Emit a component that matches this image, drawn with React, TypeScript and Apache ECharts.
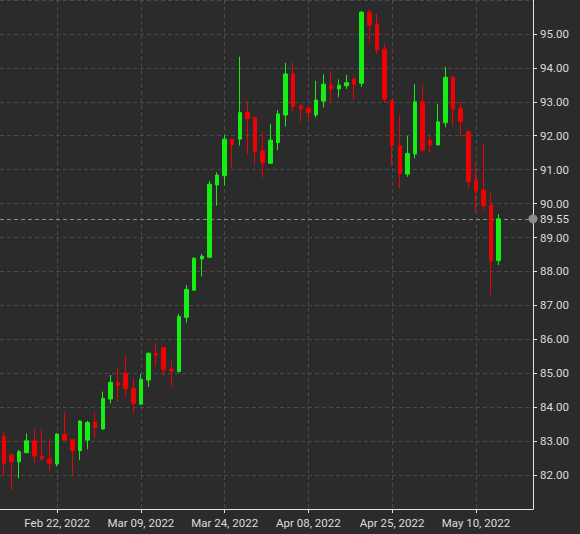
import React, { useEffect, useRef } from "react";
import * as echarts from "echarts";

// trading days, last four are empty padding on the right
const dates = [
  "2022-02-11", "2022-02-14", "2022-02-15", "2022-02-16", "2022-02-17", "2022-02-18",
  "2022-02-21", "2022-02-22", "2022-02-23", "2022-02-24", "2022-02-25", "2022-02-28",
  "2022-03-01", "2022-03-02", "2022-03-03", "2022-03-04", "2022-03-07", "2022-03-08",
  "2022-03-09", "2022-03-10", "2022-03-11", "2022-03-14", "2022-03-15", "2022-03-16",
  "2022-03-17", "2022-03-18", "2022-03-21", "2022-03-22", "2022-03-23", "2022-03-24",
  "2022-03-25", "2022-03-28", "2022-03-29", "2022-03-30", "2022-03-31", "2022-04-01",
  "2022-04-04", "2022-04-05", "2022-04-06", "2022-04-07", "2022-04-08", "2022-04-11",
  "2022-04-12", "2022-04-13", "2022-04-14", "2022-04-15", "2022-04-18", "2022-04-19",
  "2022-04-20", "2022-04-21", "2022-04-22", "2022-04-25", "2022-04-26", "2022-04-27",
  "2022-04-28", "2022-04-29", "2022-05-02", "2022-05-03", "2022-05-04", "2022-05-05",
  "2022-05-06", "2022-05-09", "2022-05-10", "2022-05-11", "2022-05-12", "2022-05-13",
  "2022-05-16", "2022-05-17", "2022-05-18", "2022-05-19",
];

const opens = [
  83.13, 82.59, 82.39, 82.66, 83.01, 82.56, 82.47, 82.33, 83.2, 83.05, 82.72, 83.03,
  83.55, 83.36, 84.24, 84.73, 85.0, 84.56, 84.09, 84.8, 85.59, 85.76, 85.12, 85.05,
  86.65, 87.45, 88.37, 88.42, 90.55, 90.82, 91.9, 91.9, 92.69, 92.53, 91.55, 91.19,
  91.8, 92.61, 93.82, 92.88, 92.81, 92.61, 93.02, 93.49, 93.38, 93.47, 93.67, 93.55,
  95.64, 95.28, 94.55, 93.03, 91.71, 90.87, 91.46, 93.0, 91.85, 91.73, 92.38, 93.72,
  92.81, 92.12, 90.7, 90.4, 89.96, 88.32,
];
const closes = [
  82.35, 82.39, 82.69, 83.01, 82.56, 82.49, 82.35, 83.21, 83.03, 82.72, 83.59, 83.55,
  83.4, 84.26, 84.73, 84.64, 84.54, 84.11, 84.82, 85.59, 85.53, 85.1, 85.07, 86.67,
  87.47, 88.39, 88.45, 90.57, 90.84, 91.9, 91.73, 92.68, 92.51, 91.53, 91.2, 91.87,
  92.64, 93.82, 92.86, 92.79, 92.68, 93.05, 93.52, 93.38, 93.49, 93.56, 93.52, 95.64,
  95.26, 94.53, 93.08, 91.71, 90.89, 91.48, 93.0, 91.58, 91.73, 92.41, 93.72, 92.78,
  92.41, 90.65, 90.38, 89.94, 88.32, 89.55,
];
const lows = [
  81.97, 81.56, 81.9, 82.64, 82.36, 82.42, 82.12, 82.25, 83.02, 82.0, 82.44, 82.76,
  83.1, 83.33, 84.11, 84.16, 84.31, 83.82, 84.06, 84.6, 85.22, 84.92, 84.6, 85.02,
  86.49, 87.43, 87.85, 88.39, 89.94, 90.53, 91.06, 91.71, 91.45, 91.14, 90.77, 91.17,
  91.58, 92.27, 92.71, 92.41, 92.46, 92.53, 92.83, 93.0, 93.13, 93.38, 93.07, 93.44,
  94.74, 94.41, 92.96, 91.12, 90.45, 90.79, 91.33, 91.55, 91.5, 91.72, 92.25, 92.29,
  91.99, 90.47, 89.76, 89.79, 87.31, 88.19,
];
const highs = [
  83.26, 82.62, 82.74, 83.23, 83.35, 83.35, 83.05, 83.23, 83.84, 83.05, 83.62, 83.6,
  83.85, 84.46, 84.95, 85.16, 85.51, 84.85, 84.97, 85.61, 85.88, 85.77, 85.37, 86.75,
  87.6, 88.42, 88.51, 90.67, 90.92, 92.02, 91.92, 94.33, 93.02, 92.53, 92.12, 92.35,
  92.76, 94.15, 94.15, 92.93, 92.91, 93.62, 93.81, 93.89, 93.66, 93.79, 93.72, 95.68,
  95.73, 95.59, 94.72, 93.05, 92.61, 91.99, 93.52, 93.5, 92.04, 92.93, 94.03, 93.76,
  93.0, 92.15, 91.19, 91.78, 90.32, 89.69,
];

const lastPrice = 89.55;

const MONTHS = ["Jan", "Feb", "Mar", "Apr", "May", "Jun", "Jul", "Aug", "Sep", "Oct", "Nov", "Dec"];
const FONT = "Roboto, 'Noto Sans', sans-serif";
const FONT_SIZE = 11.5;
const TEXT = "#dcdcdc";
const AXIS = "#e6e6e6";
const GRID = "#4a4a4a";

const fmtDate = (s: string) => {
  const [y, m, d] = s.split("-");
  return `${MONTHS[Number(m) - 1]} ${d}, ${y}`;
};

// a label every 11 sessions, starting on Feb 22
const showEvery = (i: number) => i % 11 === 7;

export default function App() {
  const ref = useRef<HTMLDivElement>(null);

  useEffect(() => {
    document.body.style.margin = "0";
    document.body.style.background = "#2b2b2b";
    if (!ref.current) return;
    const chart = echarts.init(ref.current, undefined, { renderer: "svg" });

    const ohlc = opens.map((o, i) => [o, closes[i], lows[i], highs[i]]);

    chart.setOption({
      animation: false,
      backgroundColor: "#2b2b2b",
      grid: { left: -2.2, right: 47, top: 0, bottom: 25 },
      xAxis: {
        type: "category",
        data: dates,
        boundaryGap: true,
        axisLine: { show: true, lineStyle: { color: AXIS, width: 1 } },
        axisTick: {
          show: true,
          alignWithLabel: true,
          interval: showEvery,
          length: 4,
          lineStyle: { color: AXIS },
        },
        axisLabel: {
          interval: showEvery,
          formatter: fmtDate,
          color: TEXT,
          fontFamily: FONT,
          fontSize: FONT_SIZE,
          margin: 8,
        },
        splitLine: {
          show: true,
          alignWithLabel: true,
          interval: showEvery,
          lineStyle: { color: GRID, type: [4, 3], width: 1 },
        },
      },
      yAxis: {
        type: "value",
        position: "right",
        min: 81,
        max: 96,
        interval: 1,
        scale: true,
        axisLine: { show: true, lineStyle: { color: AXIS, width: 1 } },
        axisTick: { show: true, length: 4, lineStyle: { color: AXIS } },
        axisLabel: {
          showMinLabel: false,
          showMaxLabel: false,
          formatter: (v: number) => v.toFixed(2),
          color: TEXT,
          fontFamily: FONT,
          fontSize: FONT_SIZE,
          margin: 7,
        },
        splitLine: { show: true, lineStyle: { color: GRID, type: [4, 3], width: 1 } },
      },
      series: [
        {
          type: "candlestick",
          data: ohlc,
          barWidth: 4,
          z: 3,
          itemStyle: {
            color: "#14ee14",
            color0: "#f00000",
            borderColor: "#14ee14",
            borderColor0: "#f00000",
            borderWidth: 1,
          },
          markLine: {
            silent: true,
            z: 1,
            symbol: ["none", "circle"],
            symbolSize: 9,
            lineStyle: { color: "#8c8c8c", type: [4, 3], width: 1 },
            itemStyle: { color: "#8c8c8c" },
            label: {
              show: true,
              position: "end",
              distance: 7,
              formatter: () => lastPrice.toFixed(2),
              color: TEXT,
              fontFamily: FONT,
              fontSize: FONT_SIZE,
            },
            data: [{ yAxis: lastPrice }],
          },
        },
      ],
    });

    return () => chart.dispose();
  }, []);

  return (
    <div
      ref={ref}
      style={{ position: "absolute", left: 0, top: 0, width: 580, height: 534 }}
    />
  );
}
